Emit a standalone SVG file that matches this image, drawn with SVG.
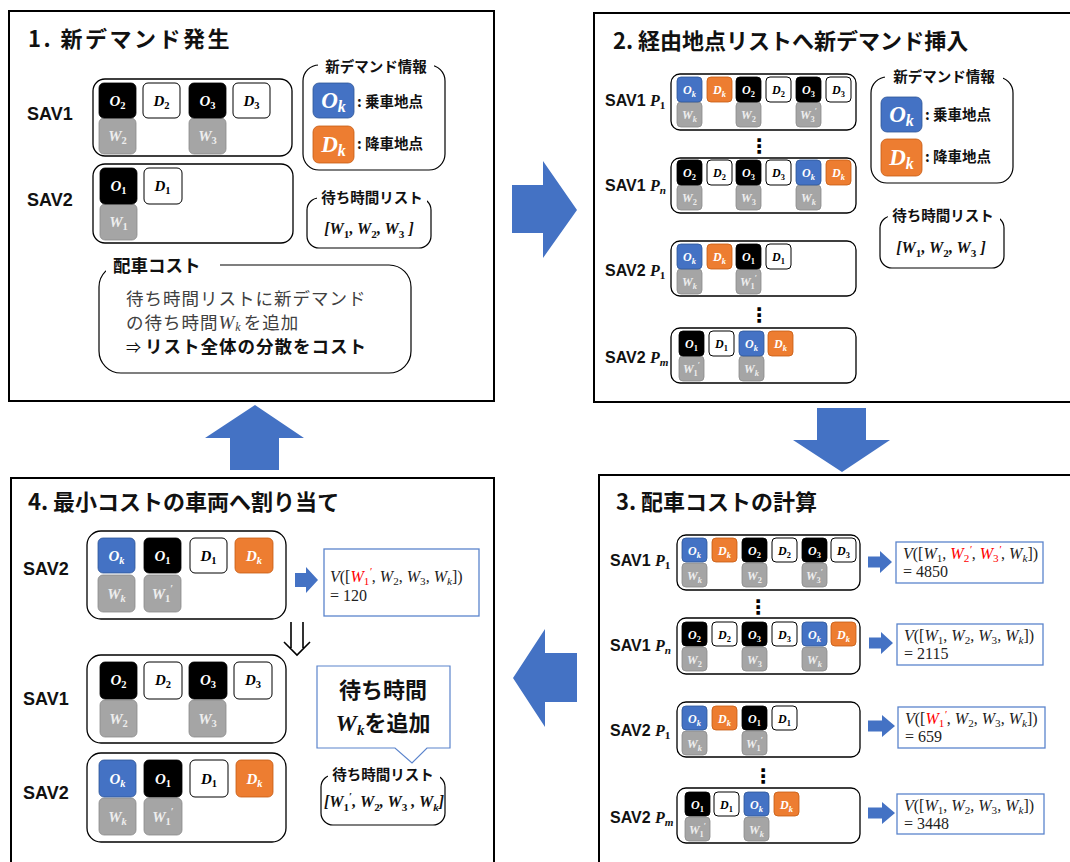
<svg xmlns="http://www.w3.org/2000/svg" width="1070" height="862" viewBox="0 0 1070 862">
<style>
.frame{fill:#fff;stroke:#000;stroke-width:2}
.cont{fill:#fff;stroke:#000;stroke-width:1.3}
.lab{fill:#fff;stroke:#000;stroke-width:1.2}
.mask{fill:#fff}
.k{fill:#000;stroke:#000;stroke-width:.8}
.w{fill:#fff;stroke:#000;stroke-width:1}
.b{fill:#4472C4;stroke:#2F5597;stroke-width:.8}
.o{fill:#ED7D31;stroke:#C55A11;stroke-width:.8}
.g{fill:#A5A5A5;stroke:#8C8C8C;stroke-width:.8}
text.m{font-family:"Liberation Serif",serif;font-weight:bold;font-style:italic;text-anchor:middle}
.L{font-size:15px}.S{font-size:12px}.X{font-size:23px}
.s{font-size:70%;font-style:normal}
.i{font-style:italic}
.tw{fill:#fff}.tb{fill:#000}.tg{fill:#eee}
.title{font-family:"Noto Sans CJK JP",sans-serif;font-weight:bold;font-size:22px;fill:#111}
.sav{font-family:"Liberation Sans",sans-serif;font-weight:bold;font-size:18px;fill:#111}
.sav2{font-family:"Liberation Sans",sans-serif;font-weight:bold;font-size:16px;fill:#111}
.pm{font-family:"Liberation Serif",serif;font-weight:bold;font-style:italic}
.jb{font-family:"Noto Sans CJK JP",sans-serif;font-weight:bold;font-size:14.5px;fill:#111}
.ct{font-family:"Noto Sans CJK JP",sans-serif;font-size:17.5px;fill:#404040}
.ctb{font-family:"Noto Sans CJK JP",sans-serif;font-size:17.5px;font-weight:bold;fill:#111}
.wl{font-family:"Liberation Serif",serif;font-weight:bold;font-style:italic;font-size:16px;fill:#111;text-anchor:middle}
.res{fill:#fff;stroke:#5B84CC;stroke-width:1.3}
.rt{font-family:"Liberation Serif",serif;font-size:16px;fill:#222}
.it{font-style:italic}
.arr{fill:#4472C4}
.dots{font-family:"DejaVu Sans",sans-serif;font-weight:bold;font-size:20px;text-anchor:middle;fill:#000}
</style>
<rect width="1070" height="862" fill="#fff"/>

<!-- Panel 1 -->
<g id="panel1">
<rect class="frame" x="9" y="11" width="485" height="390"/>
<text class="title" x="28" y="47" letter-spacing="2.5">1. 新デマンド発生</text>
</g>
<g id="p1-sav1">
<text class="sav" x="27" y="120">SAV1</text>
<rect class="cont" x="93" y="79" width="199" height="77" rx="12"/>
<rect class="g" x="99" y="118" width="37" height="36" rx="5"/><text class="m L tg" x="117.5" y="141">W<tspan class="s" dy="3">2</tspan></text>
<rect class="g" x="189" y="118" width="37" height="36" rx="5"/><text class="m L tg" x="207.5" y="141">W<tspan class="s" dy="3">3</tspan></text>
<rect class="k" x="99" y="83" width="37" height="35" rx="5"/><text class="m L tw" x="117.5" y="106">O<tspan class="s" dy="3">2</tspan></text>
<rect class="w" x="143" y="83" width="37" height="35" rx="5"/><text class="m L tb" x="161.5" y="106">D<tspan class="s" dy="3">2</tspan></text>
<rect class="k" x="189" y="83" width="37" height="35" rx="5"/><text class="m L tw" x="207.5" y="106">O<tspan class="s" dy="3">3</tspan></text>
<rect class="w" x="233" y="83" width="37" height="35" rx="5"/><text class="m L tb" x="251.5" y="106">D<tspan class="s" dy="3">3</tspan></text>
</g>
<g id="p1-sav2">
<text class="sav" x="27" y="206">SAV2</text>
<rect class="cont" x="93" y="164" width="200" height="79" rx="12"/>
<rect class="g" x="100" y="204" width="37" height="36" rx="5"/><text class="m L tg" x="118.5" y="227">W<tspan class="s" dy="3">1</tspan></text>
<rect class="k" x="100" y="168" width="37" height="36" rx="5"/><text class="m L tw" x="118.5" y="191">O<tspan class="s" dy="3">1</tspan></text>
<rect class="w" x="144" y="168" width="38" height="36" rx="5"/><text class="m L tb" x="162.5" y="191">D<tspan class="s" dy="3">1</tspan></text>
</g>
<g id="p1-info">
<rect class="lab" x="303" y="65" width="142" height="105" rx="16"/>
<rect class="mask" x="318" y="58" width="116" height="14"/>
<text class="jb" x="376" y="72" text-anchor="middle">新デマンド情報</text>
<rect class="b" x="313" y="83" width="41" height="35" rx="6"/><text class="m X tw" x="333.5" y="108">O<tspan class="s i" dy="4">k</tspan></text>
<rect class="o" x="313" y="126" width="41" height="37" rx="6"/><text class="m X tw" x="333.5" y="152">D<tspan class="s i" dy="4">k</tspan></text>
<text class="jb" x="357" y="107" font-size="15">: 乗車地点</text>
<text class="jb" x="357" y="149" font-size="15">: 降車地点</text>
</g>
<g id="p1-waitlist">
<rect class="lab" x="307" y="198" width="124" height="50" rx="12"/>
<rect class="mask" x="317" y="190" width="110" height="14"/>
<text class="jb" x="372" y="203" text-anchor="middle">待ち時間リスト</text>
<text class="wl" x="369" y="234">[W<tspan class="s" dy="4">1</tspan><tspan dy="-4">, W</tspan><tspan class="s" dy="4">2</tspan><tspan dy="-4">, W</tspan><tspan class="s" dy="4">3</tspan><tspan dy="-4"> ]</tspan></text>
</g>
<g id="p1-cost">
<rect class="lab" x="99" y="265" width="312" height="108" rx="22"/>
<rect class="mask" x="106" y="255" width="114" height="18"/>
<text class="ctb" x="113" y="272" font-size="18">配車コスト</text>
<text class="ct" x="126" y="305" letter-spacing="1">待ち時間リストに新デマンド</text>
<text class="ct" x="126" y="329" letter-spacing="1">の待ち時間<tspan font-family="Liberation Serif,serif" font-style="italic" font-size="19">W</tspan><tspan font-family="Liberation Serif,serif" font-style="italic" font-size="12" dy="2">k</tspan><tspan dy="-2" dx="2">を追加</tspan></text>
<text class="ctb" x="126" y="353" letter-spacing="1"><tspan font-weight="normal" font-size="15">⇒</tspan><tspan dx="3">リスト全体の分散をコスト</tspan></text>
</g>

<!-- Panel 2 -->
<g id="panel2">
<rect class="frame" x="594" y="13" width="490" height="389"/>
<text class="title" x="613" y="49">2. 経由地点リストへ新デマンド挿入</text>
<text class="dots" x="759" y="153">⋮</text>
<text class="dots" x="759" y="322">⋮</text>
</g>
<g id="p2-sav1-p1">
<text class="sav2" x="605" y="106">SAV1 <tspan class="pm">P<tspan class="s" dy="3">1</tspan></tspan></text>
<rect class="cont" x="671" y="74" width="185" height="56" rx="9"/>
<rect class="g" x="677" y="102" width="25" height="25" rx="4"/><text class="m S tg" x="689.5" y="119">W<tspan class="s i" dy="3">k</tspan></text>
<rect class="g" x="736" y="102" width="25" height="25" rx="4"/><text class="m S tg" x="748.5" y="119">W<tspan class="s" dy="3">2</tspan></text>
<rect class="g" x="796" y="102" width="25" height="25" rx="4"/><text class="m S tg" x="808.5" y="119">W<tspan class="s" dy="3">3</tspan><tspan class="s" dy="-8">′</tspan></text>
<rect class="b" x="677" y="77" width="25" height="25" rx="4"/><text class="m S tw" x="689.5" y="94">O<tspan class="s i" dy="3">k</tspan></text>
<rect class="o" x="707" y="77" width="25" height="25" rx="4"/><text class="m S tw" x="719.5" y="94">D<tspan class="s i" dy="3">k</tspan></text>
<rect class="k" x="736" y="77" width="25" height="25" rx="4"/><text class="m S tw" x="748.5" y="94">O<tspan class="s" dy="3">2</tspan></text>
<rect class="w" x="766" y="77" width="25" height="25" rx="4"/><text class="m S tb" x="778.5" y="94">D<tspan class="s" dy="3">2</tspan></text>
<rect class="k" x="796" y="77" width="25" height="25" rx="4"/><text class="m S tw" x="808.5" y="94">O<tspan class="s" dy="3">3</tspan></text>
<rect class="w" x="826" y="77" width="25" height="25" rx="4"/><text class="m S tb" x="838.5" y="94">D<tspan class="s" dy="3">3</tspan></text>
</g>
<g id="p2-sav1-pn">
<text class="sav2" x="605" y="191">SAV1 <tspan class="pm">P<tspan class="s i" dy="3">n</tspan></tspan></text>
<rect class="cont" x="671" y="158" width="185" height="55" rx="9"/>
<rect class="g" x="677" y="185" width="25" height="25" rx="4"/><text class="m S tg" x="689.5" y="202">W<tspan class="s" dy="3">2</tspan></text>
<rect class="g" x="736" y="185" width="25" height="25" rx="4"/><text class="m S tg" x="748.5" y="202">W<tspan class="s" dy="3">3</tspan></text>
<rect class="g" x="796" y="185" width="25" height="25" rx="4"/><text class="m S tg" x="808.5" y="202">W<tspan class="s i" dy="3">k</tspan></text>
<rect class="k" x="677" y="160" width="25" height="25" rx="4"/><text class="m S tw" x="689.5" y="177">O<tspan class="s" dy="3">2</tspan></text>
<rect class="w" x="707" y="160" width="25" height="25" rx="4"/><text class="m S tb" x="719.5" y="177">D<tspan class="s" dy="3">2</tspan></text>
<rect class="k" x="736" y="160" width="25" height="25" rx="4"/><text class="m S tw" x="748.5" y="177">O<tspan class="s" dy="3">3</tspan></text>
<rect class="w" x="766" y="160" width="25" height="25" rx="4"/><text class="m S tb" x="778.5" y="177">D<tspan class="s" dy="3">3</tspan></text>
<rect class="b" x="796" y="160" width="25" height="25" rx="4"/><text class="m S tw" x="808.5" y="177">O<tspan class="s i" dy="3">k</tspan></text>
<rect class="o" x="826" y="160" width="25" height="25" rx="4"/><text class="m S tw" x="838.5" y="177">D<tspan class="s i" dy="3">k</tspan></text>
</g>
<g id="p2-sav2-p1">
<text class="sav2" x="605" y="276">SAV2 <tspan class="pm">P<tspan class="s" dy="3">1</tspan></tspan></text>
<rect class="cont" x="671" y="241" width="185" height="55" rx="9"/>
<rect class="g" x="677" y="269" width="25" height="25" rx="4"/><text class="m S tg" x="689.5" y="286">W<tspan class="s i" dy="3">k</tspan></text>
<rect class="g" x="736" y="269" width="25" height="25" rx="4"/><text class="m S tg" x="748.5" y="286">W<tspan class="s" dy="3">1</tspan><tspan class="s" dy="-8">′</tspan></text>
<rect class="b" x="677" y="244" width="25" height="25" rx="4"/><text class="m S tw" x="689.5" y="261">O<tspan class="s i" dy="3">k</tspan></text>
<rect class="o" x="707" y="244" width="25" height="25" rx="4"/><text class="m S tw" x="719.5" y="261">D<tspan class="s i" dy="3">k</tspan></text>
<rect class="k" x="736" y="244" width="25" height="25" rx="4"/><text class="m S tw" x="748.5" y="261">O<tspan class="s" dy="3">1</tspan></text>
<rect class="w" x="766" y="244" width="25" height="25" rx="4"/><text class="m S tb" x="778.5" y="261">D<tspan class="s" dy="3">1</tspan></text>
</g>
<g id="p2-sav2-pm">
<text class="sav2" x="605" y="363">SAV2 <tspan class="pm">P<tspan class="s i" dy="3">m</tspan></tspan></text>
<rect class="cont" x="671" y="328" width="185" height="55" rx="9"/>
<rect class="g" x="679" y="356" width="25" height="25" rx="4"/><text class="m S tg" x="691.5" y="373">W<tspan class="s" dy="3">1</tspan><tspan class="s" dy="-8">′</tspan></text>
<rect class="g" x="739" y="356" width="25" height="25" rx="4"/><text class="m S tg" x="751.5" y="373">W<tspan class="s i" dy="3">k</tspan></text>
<rect class="k" x="679" y="331" width="25" height="25" rx="4"/><text class="m S tw" x="691.5" y="348">O<tspan class="s" dy="3">1</tspan></text>
<rect class="w" x="709" y="331" width="25" height="25" rx="4"/><text class="m S tb" x="721.5" y="348">D<tspan class="s" dy="3">1</tspan></text>
<rect class="b" x="739" y="331" width="25" height="25" rx="4"/><text class="m S tw" x="751.5" y="348">O<tspan class="s i" dy="3">k</tspan></text>
<rect class="o" x="768" y="331" width="25" height="25" rx="4"/><text class="m S tw" x="780.5" y="348">D<tspan class="s i" dy="3">k</tspan></text>
</g>
<g id="p2-info">
<rect class="lab" x="871" y="77" width="142" height="106" rx="16"/>
<rect class="mask" x="885" y="70" width="118" height="14"/>
<text class="jb" x="944" y="82" text-anchor="middle">新デマンド情報</text>
<rect class="b" x="881" y="97" width="41" height="35" rx="6"/><text class="m X tw" x="901.5" y="122">O<tspan class="s i" dy="4">k</tspan></text>
<rect class="o" x="881" y="139" width="41" height="37" rx="6"/><text class="m X tw" x="901.5" y="165">D<tspan class="s i" dy="4">k</tspan></text>
<text class="jb" x="925" y="120" font-size="15">: 乗車地点</text>
<text class="jb" x="925" y="162" font-size="15">: 降車地点</text>
</g>
<g id="p2-waitlist">
<rect class="lab" x="880" y="216" width="124" height="52" rx="12"/>
<rect class="mask" x="888" y="208" width="112" height="14"/>
<text class="jb" x="943" y="221" text-anchor="middle">待ち時間リスト</text>
<text class="wl" x="941" y="253">[W<tspan class="s" dy="4">1</tspan><tspan dy="-4">, W</tspan><tspan class="s" dy="4">2</tspan><tspan dy="-4">, W</tspan><tspan class="s" dy="4">3</tspan><tspan dy="-4"> ]</tspan></text>
</g>

<!-- Panel 3 -->
<g id="panel3">
<rect class="frame" x="599" y="475" width="490" height="400"/>
<text class="title" x="616" y="510">3. 配車コストの計算</text>
<text class="dots" x="758" y="614">⋮</text>
<text class="dots" x="763" y="783">⋮</text>
</g>
<g id="p3-sav1-p1">
<text class="sav2" x="610" y="566">SAV1 <tspan class="pm">P<tspan class="s" dy="3">1</tspan></tspan></text>
<rect class="cont" x="677" y="535" width="183" height="55" rx="9"/>
<rect class="g" x="682" y="563" width="25" height="24" rx="4"/><text class="m S tg" x="694.5" y="580">W<tspan class="s i" dy="3">k</tspan></text>
<rect class="g" x="742" y="563" width="25" height="24" rx="4"/><text class="m S tg" x="754.5" y="580">W<tspan class="s" dy="3">2</tspan></text>
<rect class="g" x="802" y="563" width="25" height="24" rx="4"/><text class="m S tg" x="814.5" y="580">W<tspan class="s" dy="3">3</tspan><tspan class="s" dy="-8">′</tspan></text>
<rect class="b" x="682" y="538" width="25" height="24" rx="4"/><text class="m S tw" x="694.5" y="555">O<tspan class="s i" dy="3">k</tspan></text>
<rect class="o" x="712" y="538" width="25" height="24" rx="4"/><text class="m S tw" x="724.5" y="555">D<tspan class="s i" dy="3">k</tspan></text>
<rect class="k" x="742" y="538" width="25" height="24" rx="4"/><text class="m S tw" x="754.5" y="555">O<tspan class="s" dy="3">2</tspan></text>
<rect class="w" x="772" y="538" width="25" height="24" rx="4"/><text class="m S tb" x="784.5" y="555">D<tspan class="s" dy="3">2</tspan></text>
<rect class="k" x="802" y="538" width="25" height="24" rx="4"/><text class="m S tw" x="814.5" y="555">O<tspan class="s" dy="3">3</tspan></text>
<rect class="w" x="831" y="538" width="25" height="24" rx="4"/><text class="m S tb" x="843.5" y="555">D<tspan class="s" dy="3">3</tspan></text>
</g>
<g id="p3-res1">
<rect class="res" x="896" y="542" width="147" height="41"/>
<text class="rt" x="903" y="559"><tspan class="it">V</tspan>([<tspan class="it">W</tspan><tspan class="s" dy="3">1</tspan><tspan dy="-3">, </tspan><tspan fill="#f00"><tspan class="it">W</tspan><tspan class="s" dy="3">2</tspan><tspan class="s it" dy="-9">′</tspan></tspan><tspan dy="6">, </tspan><tspan fill="#f00"><tspan class="it">W</tspan><tspan class="s" dy="3">3</tspan><tspan class="s it" dy="-9">′</tspan></tspan><tspan dy="6">, </tspan><tspan class="it">W</tspan><tspan class="s it" dy="3">k</tspan><tspan dy="-3">])</tspan></text>
<text class="rt" x="903" y="577">= 4850</text>
</g>
<g id="p3-sav1-pn">
<text class="sav2" x="610" y="651">SAV1 <tspan class="pm">P<tspan class="s i" dy="3">n</tspan></tspan></text>
<rect class="cont" x="677" y="618" width="183" height="56" rx="9"/>
<rect class="g" x="682" y="647" width="25" height="24" rx="4"/><text class="m S tg" x="694.5" y="664">W<tspan class="s" dy="3">2</tspan></text>
<rect class="g" x="742" y="647" width="25" height="24" rx="4"/><text class="m S tg" x="754.5" y="664">W<tspan class="s" dy="3">3</tspan></text>
<rect class="g" x="802" y="647" width="25" height="24" rx="4"/><text class="m S tg" x="814.5" y="664">W<tspan class="s i" dy="3">k</tspan></text>
<rect class="k" x="682" y="622" width="25" height="24" rx="4"/><text class="m S tw" x="694.5" y="639">O<tspan class="s" dy="3">2</tspan></text>
<rect class="w" x="712" y="622" width="25" height="24" rx="4"/><text class="m S tb" x="724.5" y="639">D<tspan class="s" dy="3">2</tspan></text>
<rect class="k" x="742" y="622" width="25" height="24" rx="4"/><text class="m S tw" x="754.5" y="639">O<tspan class="s" dy="3">3</tspan></text>
<rect class="w" x="772" y="622" width="25" height="24" rx="4"/><text class="m S tb" x="784.5" y="639">D<tspan class="s" dy="3">3</tspan></text>
<rect class="b" x="802" y="622" width="25" height="24" rx="4"/><text class="m S tw" x="814.5" y="639">O<tspan class="s i" dy="3">k</tspan></text>
<rect class="o" x="831" y="622" width="25" height="24" rx="4"/><text class="m S tw" x="843.5" y="639">D<tspan class="s i" dy="3">k</tspan></text>
</g>
<g id="p3-res2">
<rect class="res" x="897" y="624" width="146" height="41"/>
<text class="rt" x="904" y="641"><tspan class="it">V</tspan>([<tspan class="it">W</tspan><tspan class="s" dy="3">1</tspan><tspan dy="-3">, </tspan><tspan class="it">W</tspan><tspan class="s" dy="3">2</tspan><tspan dy="-3">, </tspan><tspan class="it">W</tspan><tspan class="s" dy="3">3</tspan><tspan dy="-3">, </tspan><tspan class="it">W</tspan><tspan class="s it" dy="3">k</tspan><tspan dy="-3">])</tspan></text>
<text class="rt" x="904" y="659">= 2115</text>
</g>
<g id="p3-sav2-p1">
<text class="sav2" x="610" y="736">SAV2 <tspan class="pm">P<tspan class="s" dy="3">1</tspan></tspan></text>
<rect class="cont" x="677" y="702" width="183" height="55" rx="9"/>
<rect class="g" x="682" y="731" width="25" height="24" rx="4"/><text class="m S tg" x="694.5" y="748">W<tspan class="s i" dy="3">k</tspan></text>
<rect class="g" x="742" y="731" width="25" height="24" rx="4"/><text class="m S tg" x="754.5" y="748">W<tspan class="s" dy="3">1</tspan><tspan class="s" dy="-8">′</tspan></text>
<rect class="b" x="682" y="706" width="25" height="24" rx="4"/><text class="m S tw" x="694.5" y="723">O<tspan class="s i" dy="3">k</tspan></text>
<rect class="o" x="712" y="706" width="25" height="24" rx="4"/><text class="m S tw" x="724.5" y="723">D<tspan class="s i" dy="3">k</tspan></text>
<rect class="k" x="742" y="706" width="25" height="24" rx="4"/><text class="m S tw" x="754.5" y="723">O<tspan class="s" dy="3">1</tspan></text>
<rect class="w" x="772" y="706" width="25" height="24" rx="4"/><text class="m S tb" x="784.5" y="723">D<tspan class="s" dy="3">1</tspan></text>
</g>
<g id="p3-res3">
<rect class="res" x="898" y="707" width="147" height="41"/>
<text class="rt" x="905" y="724"><tspan class="it">V</tspan>([<tspan fill="#f00"><tspan class="it">W</tspan><tspan class="s" dy="3">1</tspan><tspan class="s it" dy="-9">′</tspan></tspan><tspan dy="6">, </tspan><tspan class="it">W</tspan><tspan class="s" dy="3">2</tspan><tspan dy="-3">, </tspan><tspan class="it">W</tspan><tspan class="s" dy="3">3</tspan><tspan dy="-3">, </tspan><tspan class="it">W</tspan><tspan class="s it" dy="3">k</tspan><tspan dy="-3">])</tspan></text>
<text class="rt" x="905" y="742">= 659</text>
</g>
<g id="p3-sav2-pm">
<text class="sav2" x="610" y="823">SAV2 <tspan class="pm">P<tspan class="s i" dy="3">m</tspan></tspan></text>
<rect class="cont" x="677" y="788" width="183" height="55" rx="9"/>
<rect class="g" x="685" y="817" width="25" height="24" rx="4"/><text class="m S tg" x="697.5" y="834">W<tspan class="s" dy="3">1</tspan><tspan class="s" dy="-8">′</tspan></text>
<rect class="g" x="744" y="817" width="25" height="24" rx="4"/><text class="m S tg" x="756.5" y="834">W<tspan class="s i" dy="3">k</tspan></text>
<rect class="k" x="685" y="792" width="25" height="24" rx="4"/><text class="m S tw" x="697.5" y="809">O<tspan class="s" dy="3">1</tspan></text>
<rect class="w" x="714" y="792" width="25" height="24" rx="4"/><text class="m S tb" x="726.5" y="809">D<tspan class="s" dy="3">1</tspan></text>
<rect class="b" x="744" y="792" width="25" height="24" rx="4"/><text class="m S tw" x="756.5" y="809">O<tspan class="s i" dy="3">k</tspan></text>
<rect class="o" x="774" y="792" width="25" height="24" rx="4"/><text class="m S tw" x="786.5" y="809">D<tspan class="s i" dy="3">k</tspan></text>
</g>
<g id="p3-res4">
<rect class="res" x="897" y="794" width="147" height="40"/>
<text class="rt" x="904" y="811"><tspan class="it">V</tspan>([<tspan class="it">W</tspan><tspan class="s" dy="3">1</tspan><tspan dy="-3">, </tspan><tspan class="it">W</tspan><tspan class="s" dy="3">2</tspan><tspan dy="-3">, </tspan><tspan class="it">W</tspan><tspan class="s" dy="3">3</tspan><tspan dy="-3">, </tspan><tspan class="it">W</tspan><tspan class="s it" dy="3">k</tspan><tspan dy="-3">])</tspan></text>
<text class="rt" x="904" y="829">= 3448</text>
</g>

<!-- Panel 4 -->
<g id="panel4">
<rect class="frame" x="11" y="478" width="483" height="400"/>
<text class="title" x="28" y="510">4. 最小コストの車両へ割り当て</text>
</g>
<g id="p4-sav2-top">
<text class="sav" x="23" y="575">SAV2</text>
<rect class="cont" x="87" y="531" width="199" height="88" rx="14"/>
<rect class="g" x="98" y="575" width="37" height="37" rx="5"/><text class="m L tg" x="116.5" y="599">W<tspan class="s i" dy="3">k</tspan></text>
<rect class="g" x="144" y="575" width="37" height="37" rx="5"/><text class="m L tg" x="162.5" y="599">W<tspan class="s" dy="3">1</tspan><tspan class="s" dy="-10">′</tspan></text>
<rect class="b" x="98" y="538" width="37" height="35" rx="5"/><text class="m L tw" x="116.5" y="561">O<tspan class="s i" dy="3">k</tspan></text>
<rect class="k" x="144" y="538" width="37" height="35" rx="5"/><text class="m L tw" x="162.5" y="561">O<tspan class="s" dy="3">1</tspan></text>
<rect class="w" x="190" y="538" width="37" height="35" rx="5"/><text class="m L tb" x="208.5" y="561">D<tspan class="s" dy="3">1</tspan></text>
<rect class="o" x="235" y="538" width="38" height="35" rx="5"/><text class="m L tw" x="254" y="561">D<tspan class="s i" dy="3">k</tspan></text>
</g>
<g id="p4-res">
<rect class="res" x="324" y="549" width="155" height="67"/>
<text class="rt" x="330" y="582" font-size="17"><tspan class="it">V</tspan>([<tspan fill="#f00"><tspan class="it">W</tspan><tspan class="s" dy="3">1</tspan><tspan class="s it" dy="-10">′</tspan></tspan><tspan dy="7">, </tspan><tspan class="it">W</tspan><tspan class="s" dy="3">2</tspan><tspan dy="-3">, </tspan><tspan class="it">W</tspan><tspan class="s" dy="3">3</tspan><tspan dy="-3">, </tspan><tspan class="it">W</tspan><tspan class="s it" dy="3">k</tspan><tspan dy="-3">])</tspan></text>
<text class="rt" x="330" y="601" font-size="17">= 120</text>
</g>
<g id="p4-sav1">
<text class="sav" x="23" y="705">SAV1</text>
<rect class="cont" x="87" y="655" width="199" height="88" rx="14"/>
<rect class="g" x="100" y="700" width="37" height="37" rx="5"/><text class="m L tg" x="118.5" y="724">W<tspan class="s" dy="3">2</tspan></text>
<rect class="g" x="189" y="700" width="37" height="37" rx="5"/><text class="m L tg" x="207.5" y="724">W<tspan class="s" dy="3">3</tspan></text>
<rect class="k" x="100" y="662" width="37" height="37" rx="5"/><text class="m L tw" x="118.5" y="685">O<tspan class="s" dy="3">2</tspan></text>
<rect class="w" x="144" y="662" width="38" height="37" rx="5"/><text class="m L tb" x="163" y="685">D<tspan class="s" dy="3">2</tspan></text>
<rect class="k" x="189" y="662" width="38" height="37" rx="5"/><text class="m L tw" x="208" y="685">O<tspan class="s" dy="3">3</tspan></text>
<rect class="w" x="234" y="662" width="38" height="37" rx="5"/><text class="m L tb" x="253" y="685">D<tspan class="s" dy="3">3</tspan></text>
</g>
<g id="p4-sav2">
<text class="sav" x="23" y="799">SAV2</text>
<rect class="cont" x="87" y="753" width="199" height="89" rx="14"/>
<rect class="g" x="99" y="798" width="37" height="37" rx="5"/><text class="m L tg" x="117.5" y="822">W<tspan class="s i" dy="3">k</tspan></text>
<rect class="g" x="144" y="798" width="38" height="37" rx="5"/><text class="m L tg" x="163" y="822">W<tspan class="s" dy="3">1</tspan><tspan class="s" dy="-10">′</tspan></text>
<rect class="b" x="99" y="760" width="37" height="37" rx="5"/><text class="m L tw" x="117.5" y="784">O<tspan class="s i" dy="3">k</tspan></text>
<rect class="k" x="144" y="760" width="38" height="37" rx="5"/><text class="m L tw" x="163" y="784">O<tspan class="s" dy="3">1</tspan></text>
<rect class="w" x="190" y="760" width="38" height="37" rx="5"/><text class="m L tb" x="209" y="784">D<tspan class="s" dy="3">1</tspan></text>
<rect class="o" x="236" y="760" width="37" height="37" rx="5"/><text class="m L tw" x="254.5" y="784">D<tspan class="s i" dy="3">k</tspan></text>
</g>
<g id="p4-callout">
<path d="M317,666 H450 V748 H427 L412,763 L395,748 H317 Z" fill="#fff" stroke="#5B84CC" stroke-width="1.2"/>
<text x="383" y="698" text-anchor="middle" font-family="Noto Sans CJK JP,sans-serif" font-weight="bold" font-size="22" fill="#111">待ち時間</text>
<text x="383" y="731" text-anchor="middle" font-family="Noto Sans CJK JP,sans-serif" font-weight="bold" font-size="22" fill="#111"><tspan font-family="Liberation Serif,serif" font-style="italic" font-size="24">W</tspan><tspan font-family="Liberation Serif,serif" font-style="italic" font-size="15" dy="4">k</tspan><tspan dy="-4">を追加</tspan></text>
</g>
<g id="p4-waitlist">
<rect class="lab" x="321" y="775" width="124" height="50" rx="12"/>
<rect class="mask" x="328" y="767" width="112" height="14"/>
<text class="jb" x="383" y="780" text-anchor="middle">待ち時間リスト</text>
<text class="wl" x="384" y="807" font-size="15">[W<tspan class="s" dy="4">1</tspan><tspan class="s" dy="-11">′</tspan><tspan dy="7">, W</tspan><tspan class="s" dy="4">2</tspan><tspan dy="-4">, W</tspan><tspan class="s" dy="4">3</tspan><tspan dy="-4"> , W</tspan><tspan class="s i" dy="4">k</tspan><tspan dy="-4">]</tspan></text>
</g>

<!-- Connectors -->
<g id="connectors">
<polygon class="arr" points="512,185 543,185 543,161 577,210 543,258 543,233 512,233"/>
<polygon class="arr" points="817,408 866,408 866,440 890,440 842,472 793,440 817,440"/>
<polygon class="arr" points="577,653 545,653 545,629 513,678 545,727 545,702 577,702"/>
<polygon class="arr" points="255,405 304,438 279,438 279,470 230,470 230,438 205,438"/>
<path class="arr" transform="translate(868,562)" d="M0,-5.5 H12 V-11 L24,0 L12,11 V5.5 H0 Z"/>
<path class="arr" transform="translate(869,643)" d="M0,-5.5 H12 V-11 L24,0 L12,11 V5.5 H0 Z"/>
<path class="arr" transform="translate(868,726)" d="M0,-5.5 H14 V-11 L27,0 L14,11 V5.5 H0 Z"/>
<path class="arr" transform="translate(868,813)" d="M0,-5.5 H14 V-11 L27,0 L14,11 V5.5 H0 Z"/>
<path class="arr" transform="translate(295,580)" d="M0,-7 H11 V-13 L23,0 L11,13 V7 H0 Z"/>
<path d="M291,622 V648 M303,622 V648 M284,642 L297,655 L310,642" fill="none" stroke="#000" stroke-width="1.6"/>
</g>
</svg>
